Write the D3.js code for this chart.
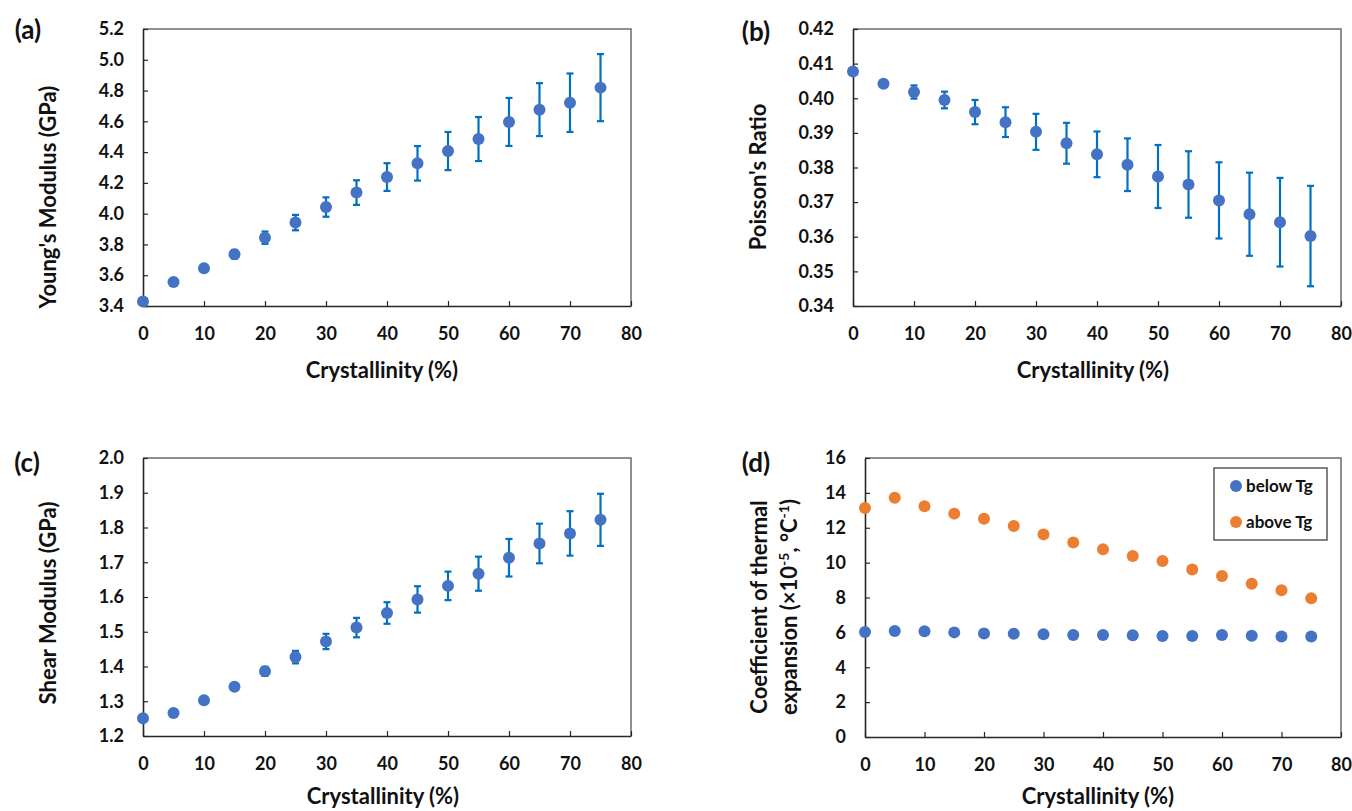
<!DOCTYPE html>
<html><head><meta charset="utf-8">
<script src="https://cdn.jsdelivr.net/npm/d3@7"></script>
<style>
body{margin:0;background:#fff}
svg{display:block;font-family:Lato,"Open Sans",sans-serif;font-weight:700}
</style>
</head><body>
<svg id="chart" width="1352" height="811"></svg>
<script>
// ---------------- data ----------------
const crystallinity = [0,5,10,15,20,25,30,35,40,45,50,55,60,65,70,75];
const youngMean = [3.430,3.556,3.645,3.736,3.844,3.942,4.043,4.137,4.238,4.327,4.407,4.485,4.596,4.676,4.721,4.819];
const youngErr  = [0,0.005,0.01,0.028,0.04,0.05,0.063,0.08,0.09,0.112,0.124,0.143,0.156,0.172,0.19,0.218];
const poissonMean = [0.4077,0.4042,0.4018,0.3995,0.3960,0.3931,0.3903,0.3870,0.3838,0.3808,0.3774,0.3751,0.3705,0.3665,0.3642,0.3602];
const poissonErr  = [0,0.0005,0.0019,0.0024,0.0035,0.0043,0.0052,0.0059,0.0066,0.0076,0.0091,0.0096,0.0110,0.0120,0.0128,0.0145];
const shearMean = [1.251,1.266,1.303,1.342,1.386,1.427,1.472,1.512,1.554,1.593,1.632,1.667,1.713,1.754,1.783,1.822];
const shearErr  = [0,0.003,0.005,0.005,0.013,0.018,0.022,0.028,0.031,0.038,0.041,0.049,0.054,0.057,0.064,0.075];
const cteBelow = [6.02,6.08,6.06,6.00,5.94,5.92,5.89,5.85,5.85,5.83,5.79,5.79,5.85,5.81,5.77,5.77];
const cteAbove = [13.13,13.72,13.23,12.81,12.52,12.10,11.62,11.16,10.76,10.38,10.09,9.61,9.23,8.79,8.41,7.95];
const seriesNames = ["below Tg","above Tg"];

const xTicks = [0,10,20,30,40,50,60,70,80];
const youngTicks = [3.4,3.6,3.8,4.0,4.2,4.4,4.6,4.8,5.0,5.2];
const poissonTicks = [0.34,0.35,0.36,0.37,0.38,0.39,0.40,0.41,0.42];
const shearTicks = [1.2,1.3,1.4,1.5,1.6,1.7,1.8,1.9,2.0];
const cteTicks = [0,2,4,6,8,10,12,14,16];

// ---------------- style ----------------
const BLUE = "#4472C4", ORANGE = "#ED7D31", ERR = "#0070C0";
const AXIS = "#262626", FRAME = "#6b6b6b";
const TITLE_SIZE = 22;

const svg = d3.select("#chart");
svg.append("rect").attr("width",1352).attr("height",811).attr("fill","#fff");

function panel(o){
  const x = d3.scaleLinear().domain([0,80]).range([o.l,o.r]);
  const y = d3.scaleLinear().domain([o.yTicks[0], o.yTicks[o.yTicks.length-1]]).range([o.b,o.t]);
  const g = svg.append("g");

  // top / right frame
  g.append("path").attr("d",`M${o.l},${o.t}H${o.r}V${o.b}`)
    .attr("fill","none").attr("stroke",FRAME).attr("stroke-width",1.5);

  const xa = g.append("g").attr("transform",`translate(0,${o.b})`)
    .call(d3.axisBottom(x).tickValues(xTicks).tickSizeInner(-5).tickSizeOuter(0).tickPadding(21).tickFormat(d3.format("d")));
  const ya = g.append("g").attr("transform",`translate(${o.l},0)`)
    .call(d3.axisLeft(y).tickValues(o.yTicks).tickSizeInner(-5).tickSizeOuter(0).tickPadding(19).tickFormat(d3.format(o.fmt)));
  [xa,ya].forEach(a=>{
    a.selectAll("path").attr("stroke",AXIS).attr("stroke-width",1.6);
    a.selectAll("line").attr("stroke",AXIS).attr("stroke-width",1.2);
    a.selectAll("text").attr("fill","#111").attr("font-size",18).attr("font-family","Lato, sans-serif").attr("font-weight",700);
  });

  // error bars
  if(o.err){
    const eb = g.append("g").attr("stroke",ERR).attr("stroke-width",2.2);
    crystallinity.forEach((c,i)=>{
      const e = o.err[i]; if(!e) return;
      const cx = x(c), y1 = y(o.mean[i]-e), y2 = y(o.mean[i]+e);
      eb.append("line").attr("x1",cx).attr("x2",cx).attr("y1",y1).attr("y2",y2);
      eb.append("line").attr("x1",cx-3.5).attr("x2",cx+3.5).attr("y1",y1).attr("y2",y1);
      eb.append("line").attr("x1",cx-3.5).attr("x2",cx+3.5).attr("y1",y2).attr("y2",y2);
    });
  }
  (o.series||[{values:o.mean,color:BLUE}]).forEach(s=>{
    g.append("g").selectAll("circle").data(s.values).join("circle")
      .attr("cx",(d,i)=>x(crystallinity[i])).attr("cy",d=>y(d)).attr("r",6).attr("fill",s.color);
  });

  // titles
  g.append("text").attr("x",o.xtx).attr("y",o.xty).attr("text-anchor","middle").attr("dy","0.35em")
    .attr("font-size",TITLE_SIZE).attr("fill","#111").text("Crystallinity (%)");
  o.ytitle.forEach(t=>{
    const tx = g.append("text").attr("transform",`translate(${t.x},${t.y}) rotate(-90)`)
      .attr("text-anchor","middle").attr("dy","0.35em").attr("font-size",TITLE_SIZE).attr("fill","#111");
    t.parts.forEach(p=>{
      const ts = tx.append("tspan").text(p.t);
      if(p.sup){ ts.attr("font-size",14).attr("baseline-shift","super"); }
    });
  });
  g.append("text").attr("x",o.lx).attr("y",o.ly).attr("text-anchor","middle").attr("dy","0.35em")
    .attr("font-size",26).attr("fill","#111").text(o.label);
  return {x,y,g};
}

panel({l:143,r:631,t:29,b:306,yTicks:youngTicks,fmt:".1f",mean:youngMean,err:youngErr,
  xtx:382,xty:370,label:"(a)",lx:28,ly:30,
  ytitle:[{x:48,y:197,parts:[{t:"Young's Modulus (GPa)"}]}]});

panel({l:853,r:1341,t:29,b:306,yTicks:poissonTicks,fmt:".2f",mean:poissonMean,err:poissonErr,
  xtx:1093,xty:370,label:"(b)",lx:756,ly:32,
  ytitle:[{x:758,y:177,parts:[{t:"Poisson's Ratio"}]}]});

panel({l:143,r:631,t:458,b:736,yTicks:shearTicks,fmt:".1f",mean:shearMean,err:shearErr,
  xtx:383,xty:796,label:"(c)",lx:27,ly:463,
  ytitle:[{x:48,y:603,parts:[{t:"Shear Modulus (GPa)"}]}]});

panel({l:865,r:1341,t:458,b:737,yTicks:cteTicks,fmt:"d",
  series:[{values:cteBelow,color:BLUE},{values:cteAbove,color:ORANGE}],
  xtx:1098,xty:796,label:"(d)",lx:756,ly:463,
  ytitle:[{x:759,y:607,parts:[{t:"Coefficient of thermal"}]},
          {x:789,y:607,parts:[{t:"expansion (×10"},{t:"-5",sup:true},{t:", °C"},{t:"-1",sup:true},{t:")"}]}]});

// legend for (d)
const lg = svg.append("g");
lg.append("rect").attr("x",1214).attr("y",468).attr("width",113).attr("height",72)
  .attr("fill","#fff").attr("stroke","#404040").attr("stroke-width",1.3);
[BLUE,ORANGE].forEach((c,i)=>{
  const yy = 486 + i*36;
  lg.append("circle").attr("cx",1236).attr("cy",yy).attr("r",6).attr("fill",c);
  lg.append("text").attr("x",1246).attr("y",yy).attr("dy","0.35em").attr("font-size",17).attr("fill","#111").text(seriesNames[i]);
});
</script>
</body></html>
